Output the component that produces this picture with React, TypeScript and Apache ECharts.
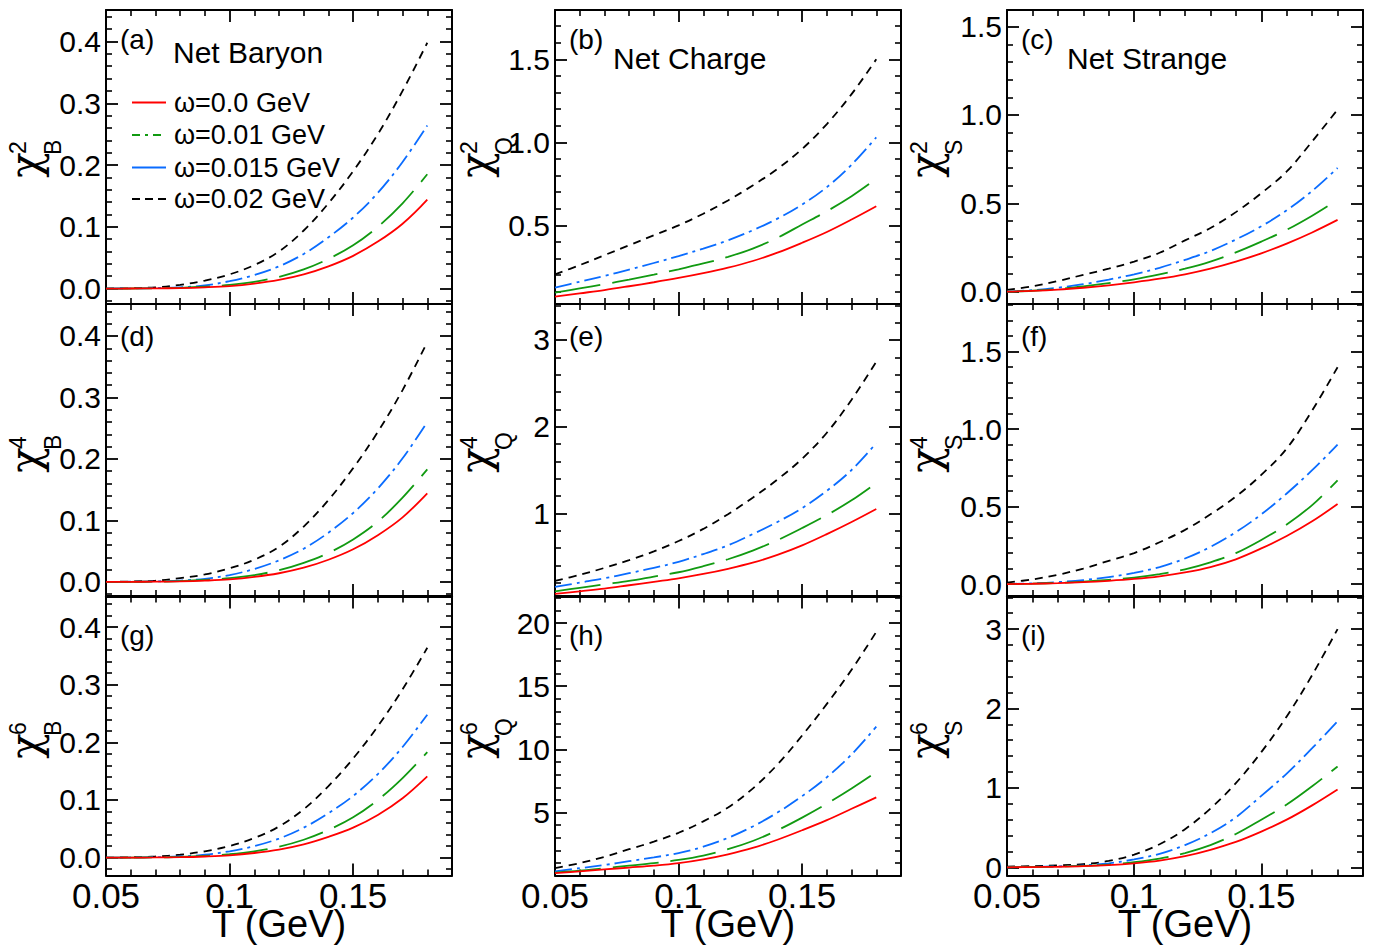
import React, { useEffect, useRef } from "react";
import * as echarts from "echarts";

// Temperature grid (GeV)
const T = [0.05, 0.06, 0.07, 0.08, 0.09, 0.1, 0.11, 0.12, 0.13, 0.14, 0.15, 0.16, 0.17, 0.18];

const legendLabels = ["ω=0.0 GeV", "ω=0.01 GeV", "ω=0.015 GeV", "ω=0.02 GeV"];
const xTickValues = [0.05, 0.1, 0.15];
const xTickLabels = ["0.05", "0.1", "0.15"];
const xTitle = "T (GeV)";
const panelTags = ["(a)", "(b)", "(c)", "(d)", "(e)", "(f)", "(g)", "(h)", "(i)"];
const columnTitles = ["Net Baryon", "Net Charge", "Net Strange"];
const chargeSubs = ["B", "Q", "S"];
const orders = ["2", "4", "6"];

// (a) chi_B^2
const a_w000 = [0, 0.0001, 0.0003, 0.0008, 0.002, 0.004, 0.008, 0.014, 0.023, 0.036, 0.053, 0.076, 0.105, 0.144];
const a_w010 = [0, 0.0001, 0.0004, 0.0012, 0.003, 0.006, 0.011, 0.019, 0.031, 0.048, 0.07, 0.1, 0.138, 0.185];
const a_w015 = [0, 0.0002, 0.0008, 0.002, 0.005, 0.012, 0.022, 0.036, 0.056, 0.083, 0.115, 0.155, 0.205, 0.264];
const a_w020 = [0, 0.0005, 0.002, 0.006, 0.013, 0.023, 0.038, 0.06, 0.094, 0.138, 0.19, 0.25, 0.32, 0.398];
// (b) chi_Q^2
const b_w000 = [0.07, 0.09, 0.11, 0.133, 0.157, 0.183, 0.212, 0.245, 0.285, 0.335, 0.395, 0.46, 0.535, 0.615];
const b_w010 = [0.095, 0.12, 0.145, 0.173, 0.203, 0.235, 0.27, 0.31, 0.36, 0.425, 0.505, 0.585, 0.675, 0.78];
const b_w015 = [0.125, 0.16, 0.195, 0.233, 0.273, 0.315, 0.36, 0.41, 0.47, 0.54, 0.625, 0.73, 0.865, 1.03];
const b_w020 = [0.205, 0.26, 0.32, 0.38, 0.44, 0.5, 0.57, 0.65, 0.74, 0.84, 0.96, 1.11, 1.29, 1.5];
// (c) chi_S^2
const c_w000 = [0, 0.004, 0.011, 0.022, 0.036, 0.053, 0.073, 0.098, 0.13, 0.17, 0.217, 0.272, 0.335, 0.406];
const c_w010 = [0, 0.005, 0.015, 0.03, 0.048, 0.07, 0.098, 0.13, 0.17, 0.222, 0.283, 0.35, 0.43, 0.52];
const c_w015 = [0, 0.008, 0.022, 0.042, 0.068, 0.098, 0.135, 0.18, 0.23, 0.295, 0.37, 0.46, 0.57, 0.7];
const c_w020 = [0.01, 0.03, 0.06, 0.095, 0.13, 0.17, 0.22, 0.29, 0.36, 0.45, 0.557, 0.68, 0.85, 1.03];
// (d) chi_B^4
const d_w000 = [0, 0.0001, 0.0003, 0.0008, 0.002, 0.004, 0.008, 0.014, 0.023, 0.036, 0.053, 0.076, 0.105, 0.144];
const d_w010 = [0, 0.0001, 0.0004, 0.0012, 0.003, 0.006, 0.011, 0.019, 0.031, 0.047, 0.069, 0.098, 0.137, 0.183];
const d_w015 = [0, 0.0002, 0.0008, 0.002, 0.005, 0.011, 0.021, 0.035, 0.054, 0.08, 0.112, 0.152, 0.201, 0.26];
const d_w020 = [0, 0.0005, 0.002, 0.006, 0.012, 0.022, 0.036, 0.057, 0.09, 0.133, 0.185, 0.244, 0.312, 0.39];
// (e) chi_Q^4
const e_w000 = [0.07, 0.1, 0.13, 0.17, 0.21, 0.25, 0.3, 0.36, 0.43, 0.52, 0.63, 0.76, 0.9, 1.05];
const e_w010 = [0.1, 0.14, 0.18, 0.22, 0.27, 0.32, 0.39, 0.47, 0.57, 0.69, 0.83, 0.98, 1.15, 1.35];
const e_w015 = [0.15, 0.2, 0.25, 0.31, 0.37, 0.44, 0.53, 0.63, 0.76, 0.9, 1.06, 1.26, 1.5, 1.81];
const e_w020 = [0.22, 0.29, 0.37, 0.46, 0.56, 0.68, 0.82, 0.99, 1.18, 1.39, 1.63, 1.93, 2.31, 2.75];
// (f) chi_S^4
const f_w000 = [0, 0.002, 0.006, 0.012, 0.021, 0.033, 0.05, 0.075, 0.11, 0.16, 0.23, 0.31, 0.405, 0.517];
const f_w010 = [0, 0.003, 0.008, 0.016, 0.027, 0.042, 0.064, 0.095, 0.14, 0.2, 0.285, 0.385, 0.51, 0.67];
const f_w015 = [0, 0.005, 0.013, 0.026, 0.045, 0.072, 0.11, 0.165, 0.24, 0.335, 0.45, 0.585, 0.735, 0.9];
const f_w020 = [0.01, 0.03, 0.06, 0.1, 0.15, 0.2, 0.27, 0.35, 0.45, 0.565, 0.705, 0.875, 1.12, 1.4];
// (g) chi_B^6
const g_w000 = [0, 0.0001, 0.0003, 0.0008, 0.002, 0.004, 0.008, 0.014, 0.023, 0.036, 0.052, 0.074, 0.103, 0.141];
const g_w010 = [0, 0.0001, 0.0004, 0.0012, 0.003, 0.006, 0.011, 0.019, 0.031, 0.048, 0.07, 0.1, 0.138, 0.183];
const g_w015 = [0, 0.0002, 0.0008, 0.002, 0.005, 0.011, 0.02, 0.033, 0.052, 0.077, 0.107, 0.145, 0.192, 0.248];
const g_w020 = [0, 0.0005, 0.002, 0.005, 0.011, 0.02, 0.034, 0.054, 0.084, 0.124, 0.172, 0.228, 0.292, 0.364];
// (h) chi_Q^6
const h_w000 = [0.2, 0.35, 0.5, 0.65, 0.8, 1.0, 1.3, 1.7, 2.2, 2.85, 3.6, 4.4, 5.3, 6.2];
const h_w010 = [0.25, 0.4, 0.6, 0.8, 1.0, 1.25, 1.6, 2.1, 2.75, 3.6, 4.6, 5.7, 6.9, 8.2];
const h_w015 = [0.35, 0.6, 0.85, 1.15, 1.45, 1.8, 2.3, 3.0, 3.9, 5.0, 6.3, 7.8, 9.6, 11.8];
const h_w020 = [0.6, 1.0, 1.5, 2.1, 2.7, 3.4, 4.3, 5.4, 6.9, 8.8, 11.1, 13.6, 16.3, 19.3];
// (i) chi_S^6
const i_w000 = [0, 0.003, 0.007, 0.014, 0.027, 0.05, 0.085, 0.14, 0.22, 0.32, 0.45, 0.6, 0.78, 0.98];
const i_w010 = [0, 0.004, 0.009, 0.018, 0.035, 0.065, 0.11, 0.18, 0.28, 0.42, 0.6, 0.79, 1.02, 1.27];
const i_w015 = [0, 0.005, 0.012, 0.025, 0.05, 0.1, 0.17, 0.28, 0.43, 0.63, 0.9, 1.18, 1.5, 1.84];
const i_w020 = [0.01, 0.015, 0.025, 0.04, 0.08, 0.16, 0.29, 0.48, 0.74, 1.06, 1.45, 1.9, 2.42, 3.0];

const panelData = [
  [a_w000, a_w010, a_w015, a_w020],
  [b_w000, b_w010, b_w015, b_w020],
  [c_w000, c_w010, c_w015, c_w020],
  [d_w000, d_w010, d_w015, d_w020],
  [e_w000, e_w010, e_w015, e_w020],
  [f_w000, f_w010, f_w015, f_w020],
  [g_w000, g_w010, g_w015, g_w020],
  [h_w000, h_w010, h_w015, h_w020],
  [i_w000, i_w010, i_w015, i_w020],
];

// y-axis ranges, label step and decimals for each panel
const yMins = [-0.025, 0.026, -0.07, -0.023, 0.046, -0.077, -0.031, 0.02, -0.103];
const yMaxs = [0.451, 1.797, 1.594, 0.452, 3.415, 1.808, 0.453, 22.1, 3.41];
const ySplits = [5, 3, 3, 5, 3, 3, 5, 4, 3];
const ySteps = [0.1, 0.5, 0.5, 0.1, 1, 0.5, 0.1, 5, 1];
const yDecimals = [1, 1, 1, 1, 0, 1, 1, 0, 0];

const FONT = "'Liberation Sans', Arial, Helvetica, sans-serif";
const SERIF = "'DejaVu Serif', 'Liberation Serif', serif";
const colLeft = [106, 555, 1007];
const colWidth = [346, 346, 356];
const rowTop = [10, 304, 596.5];
const rowHeight = [294, 292, 279];

const lineColors = ["#ff0000", "#119a11", "#0a6cff", "#000000"];
const lineDashes: any[] = ["solid", [46, 12], [17, 5, 3, 5], [8, 6]];

function isMultiple(v: number, step: number) {
  const r = v / step;
  return Math.abs(r - Math.round(r)) < 1e-6;
}

function txt(text: string, x: number, y: number, size: number, align = "left", family = FONT) {
  return {
    type: "text",
    x,
    y,
    style: {
      text,
      fontSize: size,
      fontFamily: family,
      fill: "#000",
      align,
      verticalAlign: "middle",
      textAlign: align,
      textVerticalAlign: "middle",
    },
  };
}

function buildOption() {
  const grid: any[] = [];
  const xAxis: any[] = [];
  const yAxis: any[] = [];
  const series: any[] = [];
  const graphic: any[] = [];

  const axisLine = { show: true, onZero: false, lineStyle: { color: "#000", width: 2 } };
  const axisTick = { show: true, inside: true, length: 12, lineStyle: { color: "#000", width: 1.8 } };
  const minorTick = { show: true, splitNumber: 5, length: 6, lineStyle: { color: "#000", width: 1.6 } };

  for (let p = 0; p < 9; p++) {
    const r = Math.floor(p / 3);
    const c = p % 3;
    grid.push({
      left: colLeft[c],
      top: rowTop[r],
      width: colWidth[c],
      height: rowHeight[r],
      containLabel: false,
      outerBoundsMode: "none",
    });

    const xBase = {
      type: "value",
      gridIndex: p,
      min: 0.05,
      max: 0.19,
      splitNumber: 3,
      axisLine,
      axisTick,
      minorTick,
      splitLine: { show: false },
    };
    xAxis.push({
      ...xBase,
      position: "bottom",
      axisLabel: {
        show: r === 2,
        margin: 8,
        color: "#000",
        fontSize: 35,
        lineHeight: 24,
        fontFamily: FONT,
        formatter: (v: number) => {
          const k = xTickValues.findIndex((t) => Math.abs(t - v) < 1e-6);
          return k >= 0 ? xTickLabels[k] : "";
        },
      },
      name: r === 2 ? xTitle : "",
      nameLocation: "middle",
      nameGap: 30,
      nameMoveOverlap: false,
      nameTextStyle: { color: "#000", fontSize: 38, lineHeight: 36, fontFamily: FONT, verticalAlign: "top" },
    });
    xAxis.push({ ...xBase, position: "top", axisLabel: { show: false } });

    const yBase = {
      type: "value",
      gridIndex: p,
      min: yMins[p],
      max: yMaxs[p],
      splitNumber: ySplits[p],
      axisLine,
      axisTick,
      minorTick,
      splitLine: { show: false },
    };
    yAxis.push({
      ...yBase,
      position: "left",
      axisLabel: {
        show: true,
        margin: 5,
        color: "#000",
        fontSize: 30,
        lineHeight: 20,
        fontFamily: FONT,
        formatter: (v: number) => (isMultiple(v, ySteps[p]) ? v.toFixed(yDecimals[p]) : ""),
      },
    });
    yAxis.push({ ...yBase, position: "right", axisLabel: { show: false } });

    panelData[p].forEach((vals, s) => {
      series.push({
        type: "line",
        name: legendLabels[s],
        xAxisIndex: 2 * p,
        yAxisIndex: 2 * p,
        data: T.map((t, k) => [t, vals[k]]),
        showSymbol: false,
        smooth: 0.35,
        lineStyle: { color: lineColors[s], width: 1.8, type: lineDashes[s] },
        z: 2 + (3 - s),
      });
    });

    // panel tag
    graphic.push(txt(panelTags[p], colLeft[c] + 14, [39, 336, 635.5][r], 28));

    // y axis title: chi with superscript order and subscript charge
    graphic.push({
      type: "group",
      x: [33, 483.5, 933.5][c],
      y: [163, 458, 744][r],
      rotation: Math.PI / 2,
      children: [
        txt("χ", -2, -8, 42, "center", SERIF),
        txt(orders[r], 9, -15, 23, "left"),
        txt(chargeSubs[c], 8, 20, 23, "left"),
      ],
    });
  }

  // column titles
  const titleX = [173, 613, 1067];
  const titleY = [52, 58.5, 58.5];
  columnTitles.forEach((t, c) => graphic.push(txt(t, titleX[c], titleY[c], 30)));

  // legend (as drawn in the reference, inside panel a)
  const legY = [102.5, 135, 167.5, 199];
  const legDash: any[] = [null, [8, 5, 3, 5], null, [8, 5]];
  legendLabels.forEach((lab, s) => {
    graphic.push({
      type: "line",
      shape: { x1: 132, y1: legY[s], x2: 166, y2: legY[s] },
      style: { stroke: lineColors[s], lineWidth: 1.8, lineDash: legDash[s] || undefined },
    });
    graphic.push(txt(lab, 174, legY[s], 27));
  });

  return {
    animation: false,
    backgroundColor: "#ffffff",
    grid,
    xAxis,
    yAxis,
    series,
    graphic,
  };
}

export default function App() {
  const ref = useRef<HTMLDivElement>(null);
  useEffect(() => {
    if (!ref.current) return;
    const chart = echarts.init(ref.current, null, { renderer: "svg" });
    chart.setOption(buildOption() as any);
    return () => chart.dispose();
  }, []);
  return (
    <div
      ref={ref}
      style={{ position: "fixed", left: 0, top: 0, width: 1375, height: 947, background: "#fff" }}
    />
  );
}
